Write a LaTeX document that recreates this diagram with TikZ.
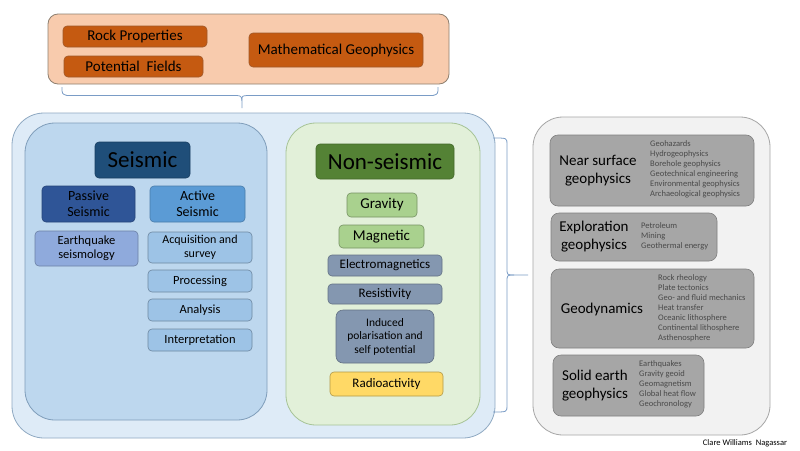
\documentclass[tikz,border=0pt]{standalone}
\usepackage{fontspec}
\setmainfont{Carlito}
\begin{document}
\begin{tikzpicture}[x=1pt,y=-1pt,
  fs/.style={font=\fontsize{#1}{#1}\selectfont\setlength\baselineskip{1.15\baselineskip}},
  bx/.style={draw, rounded corners=4pt, inner sep=0pt, align=center, line width=0.6pt},
  panel/.style={draw, rounded corners=30pt, inner sep=0pt, line width=0.8pt},
  orangebox/.style={bx, fill=orng, draw=orngd, fs=15},
  lst/.style={inner sep=0pt, anchor=north west, align=left, text=lstc, font=\fontsize{8.5}{10}\selectfont},
  rtitle/.style={inner sep=0pt, align=center, font=\fontsize{15}{18}\selectfont},
  brace/.style={draw=brc, line width=0.8pt}
]
\definecolor{peach}{HTML}{F8CBAD}
\definecolor{orng}{HTML}{C55A11}
\definecolor{orngd}{HTML}{A0582A}
\definecolor{bigbl}{HTML}{DEEBF7}
\definecolor{bigbld}{HTML}{8FA9C2}
\definecolor{seisp}{HTML}{BDD7EE}
\definecolor{seispd}{HTML}{7F9DBA}
\definecolor{seist}{HTML}{1F4E79}
\definecolor{passv}{HTML}{2F5597}
\definecolor{activ}{HTML}{5B9BD5}
\definecolor{eqk}{HTML}{8FAADC}
\definecolor{actsub}{HTML}{9DC3E6}
\definecolor{nsp}{HTML}{E2F0D9}
\definecolor{nspd}{HTML}{A6C396}
\definecolor{nst}{HTML}{548235}
\definecolor{ltgrn}{HTML}{A9D18E}
\definecolor{bgrey}{HTML}{8497B0}
\definecolor{yel}{HTML}{FFD966}
\definecolor{rpan}{HTML}{F2F2F2}
\definecolor{rpand}{HTML}{A6A6A6}
\definecolor{gbox}{HTML}{A6A6A6}
\definecolor{gboxd}{HTML}{7F7F7F}
\definecolor{lstc}{HTML}{4A4A4A}
\definecolor{brc}{HTML}{7A9CC6}
\newcommand\rbx[7]{\node[#6, minimum width={(#4-#2)*1pt}, minimum height={(#5-#3)*1pt}] (#1) at ({(#2+#4)/2},{(#3+#5)/2}) {#7};}
\useasboundingbox[fill=white] (0,0) rectangle (800,450);

% top group
\rbx{top}{48}{14}{449}{84}{draw=gray!75!brown, fill=peach, rounded corners=10pt, line width=0.8pt}{}
\rbx{rock}{63}{26}{207}{47}{orangebox}{Rock Properties}
\rbx{pot}{64}{56}{203}{77}{orangebox}{Potential\ \ Fields}
\rbx{math}{249}{33}{423}{67}{orangebox}{Mathematical Geophysics}
\draw[brace] (62,87) .. controls (62,94) .. (67,95.5) -- (237,95.5) .. controls (242,96) .. (242,108);
\draw[brace] (438,87) .. controls (438,94) .. (433,95.5) -- (247,95.5) .. controls (242,96) .. (242,100);

% big middle
\rbx{mid}{12}{113}{495}{438}{panel, fill=bigbl, draw=bigbld, rounded corners=32pt}{}
\rbx{seis}{25}{123}{267}{420}{panel, fill=seisp, draw=seispd}{}
\rbx{seist}{95}{142}{190}{178}{bx, fill=seist, draw=seist!80!black, fs=23}{Seismic}
\rbx{passive}{42}{186}{135}{222}{bx, fill=passv, draw=passv!80!black, fs=14}{Passive\\Seismic}
\rbx{active}{150}{186}{245}{222}{bx, fill=activ, draw=activ!80!black, fs=14}{Active\\Seismic}
\rbx{eq}{35}{231}{138}{266}{bx, fill=eqk, draw=eqk!75!black, fs=12.5}{Earthquake\\seismology}
\rbx{acq}{148}{232}{252}{263}{bx, fill=actsub, draw=actsub!70!black, font=\fontsize{12}{13.5}\selectfont}{Acquisition and\\survey}
\rbx{proc}{148}{270}{252}{292}{bx, fill=actsub, draw=actsub!70!black, fs=12.5}{Processing}
\rbx{anal}{148}{299}{252}{321}{bx, fill=actsub, draw=actsub!70!black, fs=12.5}{Analysis}
\rbx{interp}{148}{329}{252}{351}{bx, fill=actsub, draw=actsub!70!black, fs=12.5}{Interpretation}

\rbx{nons}{286}{123}{480}{425}{panel, fill=nsp, draw=nspd}{}
\rbx{nonst}{316}{144}{454}{179}{bx, fill=nst, draw=nst!80!black, fs=23}{Non-seismic}
\rbx{grav}{347}{193}{417}{217}{bx, fill=ltgrn, draw=ltgrn!70!black, fs=15}{Gravity}
\rbx{mag}{339}{225}{424}{248}{bx, fill=ltgrn, draw=ltgrn!70!black, fs=15}{Magnetic}
\rbx{em}{328}{255}{442}{276}{bx, fill=bgrey, draw=bgrey!75!black, fs=13}{Electromagnetics}
\rbx{res}{328}{284}{442}{304}{bx, fill=bgrey, draw=bgrey!75!black, fs=13}{Resistivity}
\rbx{ip}{336}{310}{434}{363}{bx, fill=bgrey, draw=bgrey!75!black, rounded corners=7pt, font=\fontsize{11.5}{13.5}\selectfont}{Induced\\polarisation and\\self potential}
\rbx{radio}{330}{372}{443}{396}{bx, fill=yel, draw=yel!70!black, fs=13}{Radioactivity}

\draw[brace] (493,138) .. controls (507,138) .. (507,144) -- (507,268) .. controls (507,275) .. (514,275) -- (528,275);
\draw[brace] (493,412) .. controls (507,412) .. (507,406) -- (507,282) .. controls (507,275) .. (514,275);

% right panel
\rbx{right}{533}{117}{770}{435}{panel, fill=rpan, draw=rpand}{}
\rbx{near}{550}{135}{754}{206}{bx, fill=gbox, draw=gboxd, rounded corners=8pt}{}
\rbx{expl}{551}{213}{717}{261}{bx, fill=gbox, draw=gboxd, rounded corners=8pt}{}
\rbx{geod}{551}{269}{754}{348}{bx, fill=gbox, draw=gboxd, rounded corners=8pt}{}
\rbx{solid}{553}{355}{704}{416}{bx, fill=gbox, draw=gboxd, rounded corners=8pt}{}

\node[rtitle] (neart) at (598,171) {Near surface\\geophysics};
\node[lst] (nearl) at (650,140.5) {Geohazards\\Hydrogeophysics\\Borehole geophysics\\Geotechnical engineering\\Environmental geophysics\\Archaeological geophysics};
\node[rtitle] (explt) at (594,237) {Exploration\\geophysics};
\node[lst] (expll) at (641,222.5) {Petroleum\\Mining\\Geothermal energy};
\node[rtitle] (geodt) at (602,309) {Geodynamics};
\node[lst] (geodl) at (658,274.5) {Rock rheology\\Plate tectonics\\Geo- and fluid mechanics\\Heat transfer\\Oceanic lithosphere\\Continental lithosphere\\Asthenosphere};
\node[rtitle] (solidt) at (595,385.5) {Solid earth\\geophysics};
\node[lst] (solidl) at (639,360.5) {Earthquakes\\Gravity geoid\\Geomagnetism\\Global heat flow\\Geochronology};

\node[inner sep=0pt, font=\fontsize{8.5}{10}\selectfont] (credit) at (745,443) {Clare Williams\ \ Nagassar};
\end{tikzpicture}
\end{document}
